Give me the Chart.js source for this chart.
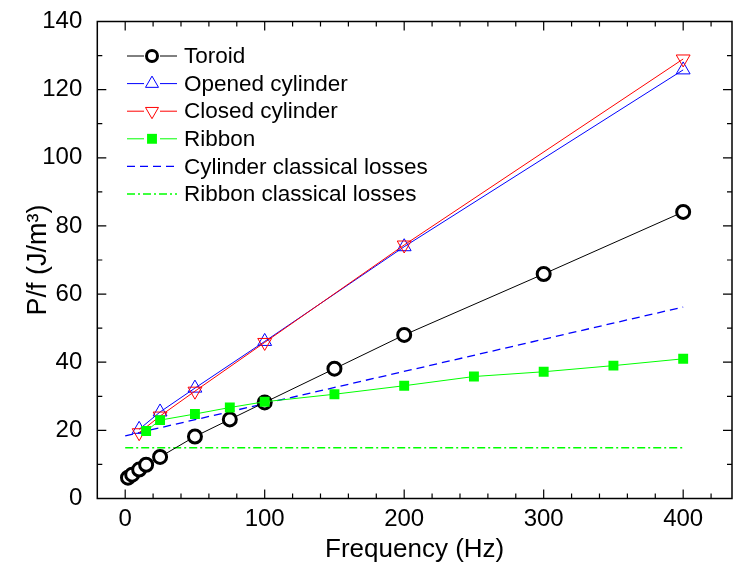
<!DOCTYPE html>
<html>
<head>
<meta charset="utf-8">
<script src="https://cdn.jsdelivr.net/npm/chart.js@4.4.1/dist/chart.umd.min.js"></script>
<style>
  html, body { margin: 0; padding: 0; background: #fff; }
  #wrap { width: 733px; height: 565px; }
</style>
</head>
<body>
<div id="wrap"><canvas id="lossChart" width="733" height="565"></canvas></div>
<script>
// P/f vs frequency
const toroidFreq = [2, 5, 10, 15, 25, 50, 75, 100, 150, 200, 300, 400]
const toroidLoss = [6.1, 7.0, 8.5, 9.9, 12.2, 18.2, 23.2, 28.2, 38.1, 48.0, 65.9, 84.1]

const openedFreq = [10, 25, 50, 100, 200, 400]
const openedLoss = [20.3, 25.4, 32.4, 46.1, 73.9, 125.8]

const closedFreq = [10, 25, 50, 100, 200, 400]
const closedLoss = [19.3, 24.2, 31.5, 45.8, 74.4, 129.0]

const ribbonFreq = [15, 25, 50, 75, 100, 150, 200, 250, 300, 350, 400]
const ribbonLoss = [19.8, 23.0, 24.8, 26.7, 28.4, 30.6, 33.1, 35.8, 37.2, 39.0, 41.0]

const cylClassicalFreq = [0, 400]
const cylClassicalLoss = [18.4, 56.2]

const ribClassicalFreq = [0, 400]
const ribClassicalLoss = [14.9, 14.9]

const xTicks = [0, 100, 200, 300, 400]
const yTicks = [0, 20, 40, 60, 80, 100, 120, 140]

const FONT = '"Liberation Sans", Arial, Helvetica, sans-serif'

function pts(xs, ys) {
    return xs.map((x, i) => ({x: x, y: ys[i]}))
}

// frame with inward ticks (major + minor), like the original plot
const framePlugin = {
    id: 'frame',
    afterDatasetsDraw(chart) {
        const ctx = chart.ctx
        const {left, right, top, bottom} = chart.chartArea
        const xs = chart.scales.x
        const ys = chart.scales.y
        ctx.save()
        ctx.strokeStyle = '#000'
        ctx.lineWidth = 1.5
        ctx.strokeRect(left, top, right - left, bottom - top)
        ctx.lineWidth = 1.2
        ctx.beginPath()
        for (let v = -20; v <= 435; v += 20) {
            let px = xs.getPixelForValue(v)
            if (px <= left + 1 || px >= right - 1) continue
            let len = (v % 100 === 0) ? 9 : 5
            ctx.moveTo(px, bottom); ctx.lineTo(px, bottom - len)
            ctx.moveTo(px, top); ctx.lineTo(px, top + len)
        }
        for (let v = 0; v <= 140; v += 10) {
            let py = ys.getPixelForValue(v)
            if (py >= bottom - 1 || py <= top + 1) continue
            let len = (v % 20 === 0) ? 9 : 5
            ctx.moveTo(left, py); ctx.lineTo(left + len, py)
            ctx.moveTo(right, py); ctx.lineTo(right - len, py)
        }
        ctx.stroke()
        ctx.restore()
    }
}

// legend drawn inside the plot area, line - marker - line samples
const insideLegend = {
    id: 'insideLegend',
    afterDraw(chart) {
        const ctx = chart.ctx
        const x0 = 127, x1 = 177, tx = 184
        let y = 56
        ctx.save()
        chart.data.datasets.forEach(ds => {
            ctx.strokeStyle = ds.borderColor
            ctx.lineWidth = ds.borderWidth
            ctx.setLineDash(ds.borderDash || [])
            ctx.beginPath()
            ctx.moveTo(x0, y); ctx.lineTo(x1, y)
            ctx.stroke()
            ctx.setLineDash([])
            if (ds.pointRadius > 0) {
                let mx = (x0 + x1) / 2
                ctx.fillStyle = '#fff'
                ctx.fillRect(mx - 8, y - 8, 16, 16)
                ctx.strokeStyle = ds.pointBorderColor
                ctx.fillStyle = ds.pointBackgroundColor
                ctx.lineWidth = ds.pointBorderWidth
                Chart.helpers.drawPoint(ctx, {
                    pointStyle: ds.pointStyle,
                    rotation: ds.pointRotation || 0,
                    radius: ds.legendRadius,
                    borderWidth: ds.pointBorderWidth
                }, mx, y)
            }
            ctx.fillStyle = '#000'
            ctx.font = '22.5px ' + FONT
            ctx.textBaseline = 'middle'
            ctx.textAlign = 'left'
            ctx.fillText(ds.label, tx, y + 1)
            y += 27.6
        })
        ctx.restore()
    }
}

let lossChart = new Chart(document.getElementById('lossChart'), {
    type: 'line',
    data: {
        datasets: [
            {
                label: 'Toroid',
                data: pts(toroidFreq, toroidLoss),
                borderColor: '#000',
                borderWidth: 1,
                pointStyle: 'circle',
                pointRadius: 6.5,
                legendRadius: 5.5,
                pointBorderWidth: 3,
                pointBorderColor: '#000',
                pointBackgroundColor: '#fff',
                order: 4
            },
            {
                label: 'Opened cylinder',
                data: pts(openedFreq, openedLoss),
                borderColor: '#0000ff',
                borderWidth: 1,
                pointStyle: 'triangle',
                pointRadius: 8,
                legendRadius: 7.5,
                pointBorderWidth: 1,
                pointBorderColor: '#0000ff',
                pointBackgroundColor: 'rgba(255,255,255,0)',
                order: 3
            },
            {
                label: 'Closed cylinder',
                data: pts(closedFreq, closedLoss),
                borderColor: '#ff0000',
                borderWidth: 1,
                pointStyle: 'triangle',
                pointRotation: 180,
                pointRadius: 8,
                legendRadius: 7.5,
                pointBorderWidth: 1,
                pointBorderColor: '#ff0000',
                pointBackgroundColor: 'rgba(255,255,255,0)',
                order: 2
            },
            {
                label: 'Ribbon',
                data: pts(ribbonFreq, ribbonLoss),
                borderColor: '#00ff00',
                borderWidth: 1,
                pointStyle: 'rect',
                pointRadius: 7,
                legendRadius: 7,
                pointBorderWidth: 0,
                pointBorderColor: '#00ff00',
                pointBackgroundColor: '#00ff00',
                order: 1
            },
            {
                label: 'Cylinder classical losses',
                data: pts(cylClassicalFreq, cylClassicalLoss),
                borderColor: '#0000ff',
                borderWidth: 1.3,
                borderDash: [8, 5],
                pointRadius: 0,
                order: 5
            },
            {
                label: 'Ribbon classical losses',
                data: pts(ribClassicalFreq, ribClassicalLoss),
                borderColor: '#00ff00',
                borderWidth: 1.3,
                borderDash: [8, 3, 2, 3],
                pointRadius: 0,
                order: 6
            }
        ]
    },
    options: {
        responsive: false,
        animation: false,
        layout: { autoPadding: false, padding: { top: 21.5, right: 1, left: 0, bottom: 0 } },
        plugins: {
            legend: { display: false },
            tooltip: { enabled: false }
        },
        elements: { line: { tension: 0 } },
        scales: {
            x: {
                type: 'linear',
                min: -20,
                max: 435,
                afterBuildTicks: axis => { axis.ticks = xTicks.map(v => ({value: v})) },
                afterFit: axis => {
                    axis.height = 66.5
                    axis.paddingLeft = 0
                    axis.paddingRight = 0
                },
                grid: { display: false, drawTicks: false },
                border: { display: false },
                ticks: { color: '#000', padding: 6, font: { family: FONT, size: 24 } },
                title: {
                    display: true,
                    text: 'Frequency (Hz)',
                    color: '#000',
                    font: { family: FONT, size: 26 },
                    padding: { top: 0, bottom: 0 }
                }
            },
            y: {
                type: 'linear',
                min: 0,
                max: 140,
                afterBuildTicks: axis => { axis.ticks = yTicks.map(v => ({value: v})) },
                afterFit: axis => {
                    axis.width = 97.3
                    axis.paddingTop = 0
                    axis.paddingBottom = 0
                },
                grid: { display: false, drawTicks: false },
                border: { display: false },
                ticks: { color: '#000', padding: 15, font: { family: FONT, size: 24 } },
                title: {
                    display: true,
                    text: 'P/f (J/m³)',
                    color: '#000',
                    font: { family: FONT, size: 27 },
                    padding: { top: 22, bottom: 0 }
                }
            }
        }
    },
    plugins: [framePlugin, insideLegend]
})
</script>
</body>
</html>
